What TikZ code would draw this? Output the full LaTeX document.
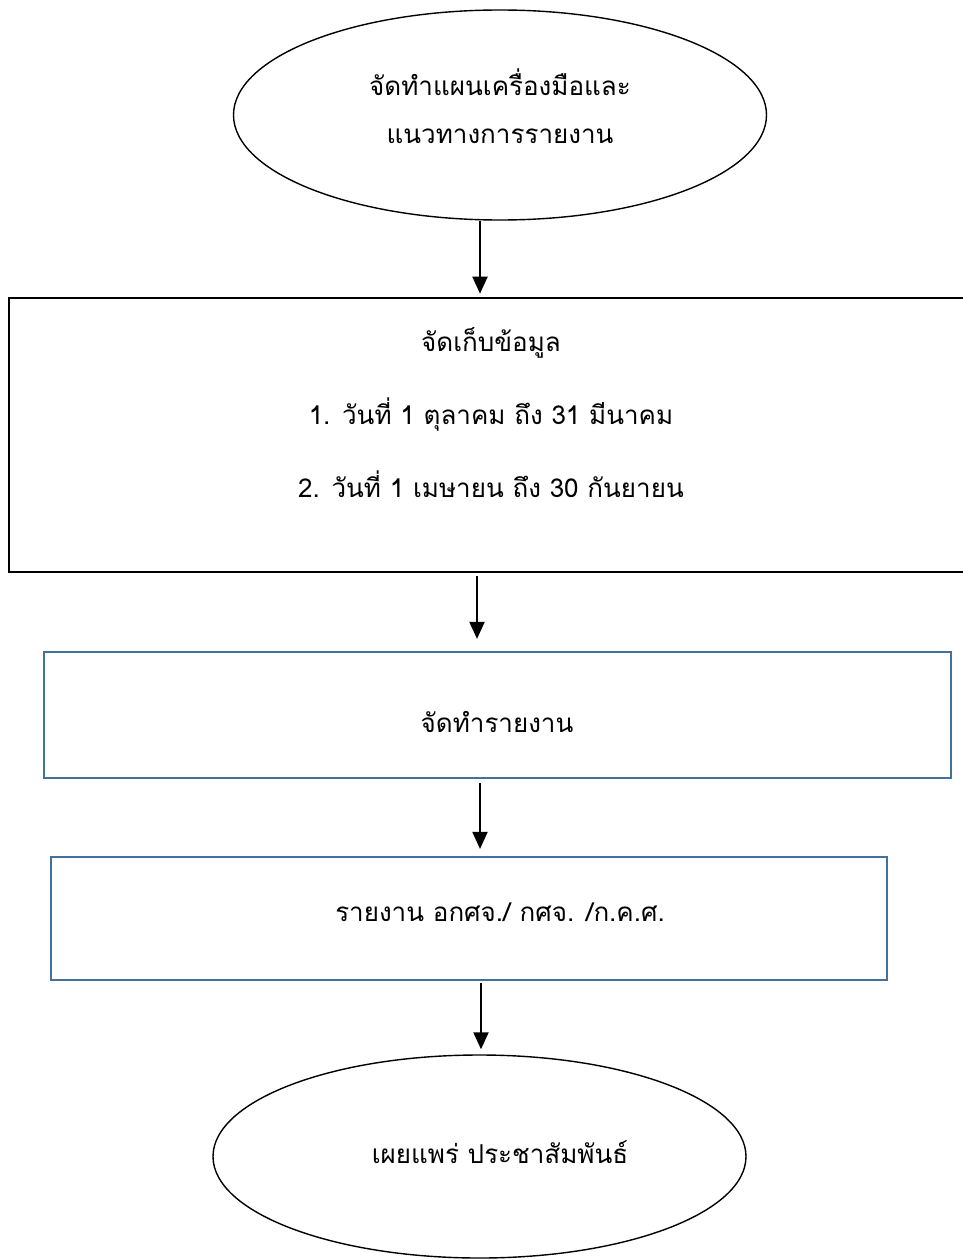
\documentclass[tikz,border=0pt]{standalone}
\usepackage{fontspec}
\newfontfamily\thaifont[Script=Thai]{Loma}
\usetikzlibrary{positioning,arrows.meta,shapes.geometric}
\definecolor{boxblue}{RGB}{65,113,156}

\begin{document}
\begin{tikzpicture}[x=1pt, y=-1pt, >={Triangle[width=15pt,length=17pt]},
  every node/.style={font=\thaifont\fontsize{26}{48}\selectfont},
  oval/.style={ellipse, draw, line width=1.4pt, inner sep=0pt},
  b/.style={draw, line width=2.6pt, inner sep=0pt},
  bb/.style={b, draw=boxblue, line width=2.2pt},
  t/.style={align=center, inner sep=0pt},
  flow/.style={->, line width=2pt}]
  \useasboundingbox (0,0) rectangle (963,1260);
  % start and end ovals
  \node[oval, minimum width=533pt, minimum height=210pt] (plan) at (500,115) {};
  \node[t] (plantxt) at (500,106) {จัดทำแผนเครื่องมือและ\\แนวทางการรายงาน};
  \node[oval, minimum width=533pt, minimum height=203pt] (spread) at (479.5,1156.5) {};
  \node[t] (spreadtxt) at (500,1152) {เผยแพร่ ประชาสัมพันธ์};
  % boxes
  \node[b, minimum width=957pt, minimum height=274pt] (store) at (487.5,435) {};
  \node[t, font=\thaifont\fontsize{26}{73}\selectfont] (storetxt) at (491,413)
    {จัดเก็บข้อมูล\\1. วันที่ 1 ตุลาคม ถึง 31 มีนาคม\\2. วันที่ 1 เมษายน ถึง 30 กันยายน};
  \node[bb, minimum width=907pt, minimum height=126pt] (make) at (497.5,715) {};
  \node[t] (maketxt) at (497,722) {จัดทำรายงาน};
  \node[bb, minimum width=836pt, minimum height=123pt] (send) at (469,918.5) {};
  \node[t] (sendtxt) at (500,912) {รายงาน อกศจ./ กศจ. /ก.ค.ศ.};
  % arrows
  \draw[flow, shorten >=3pt] ([xshift=-20pt]plan.south) -- ([xshift=-20pt]plan.south |- store.north);
  \draw[flow, shorten <=3pt, shorten >=12pt] ([xshift=-10.5pt]store.south) -- ([xshift=-10.5pt]store.south |- make.north);
  \draw[flow, shorten <=4pt, shorten >=7pt] ([xshift=-17.5pt]make.south) -- ([xshift=-17.5pt]make.south |- send.north);
  \draw[flow, shorten <=2pt, shorten >=5pt] ([xshift=12pt]send.south) -- ([xshift=12pt]send.south |- spread.north);
\end{tikzpicture}
\end{document}
